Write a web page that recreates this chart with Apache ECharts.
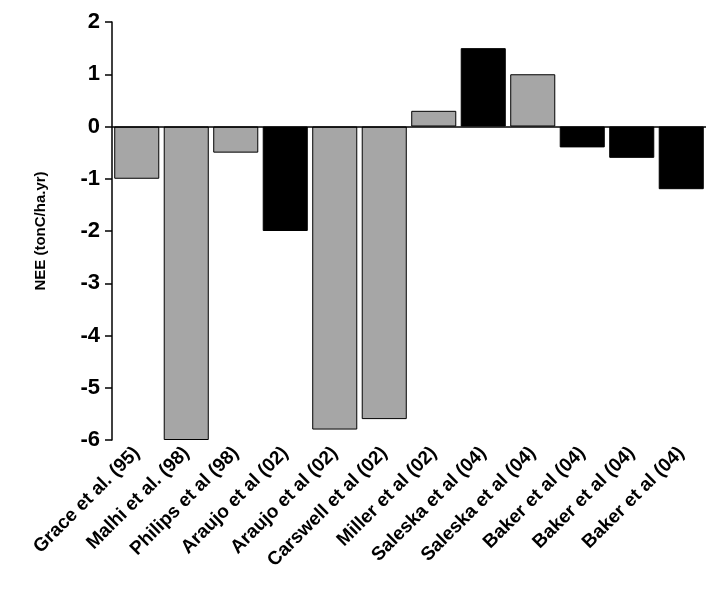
<!DOCTYPE html>
<html><head><meta charset="utf-8">
<script src="https://cdn.jsdelivr.net/npm/echarts@6/dist/echarts.min.js"></script>
<style>html,body{margin:0;padding:0;background:#fff}#chart{width:710px;height:605px}</style>
</head><body><div id="chart"></div>
<script>
var categories = ['Grace et al. (95)', 'Malhi et al. (98)', 'Philips et al (98)', 'Araujo et al (02)',
    'Araujo et al (02)', 'Carswell et al (02)', 'Miller et al (02)', 'Saleska et al (04)',
    'Saleska et al (04)', 'Baker et al (04)', 'Baker et al (04)', 'Baker et al (04)'];
var values = [-1, -6, -0.5, -2, -5.8, -5.6, 0.3, 1.5, 1.0, -0.4, -0.6, -1.2];
var isBlack = [false, false, false, true, false, false, false, true, false, true, true, true];

var chart = echarts.init(document.getElementById('chart'));
chart.setOption({
    animation: false,
    grid: {left: 112, right: 4, top: 22, bottom: 165, containLabel: false},
    xAxis: {
        type: 'category', data: categories, position: 'bottom',
        axisLine: {show: false}, axisTick: {show: false},
        axisLabel: {rotate: 45, interval: 0, fontSize: 19, fontWeight: 'bold', color: '#000',
            fontFamily: 'Liberation Sans', margin: 10}
    },
    yAxis: {
        type: 'value', min: -6, max: 2, interval: 1,
        name: 'NEE (tonC/ha.yr)', nameLocation: 'middle', nameGap: 64,
        nameTextStyle: {fontSize: 15, fontWeight: 'bold', color: '#000', fontFamily: 'Liberation Sans'},
        axisLine: {show: true, lineStyle: {color: '#000', width: 1.5}},
        axisTick: {show: true, length: 7, lineStyle: {color: '#000', width: 1.5}},
        splitLine: {show: false},
        axisLabel: {fontSize: 22, fontWeight: 'bold', color: '#000', fontFamily: 'Liberation Sans', margin: 12}
    },
    series: [{
        type: 'bar', barCategoryGap: '9%',
        data: values.map(function (v, i) {
            return {value: v, itemStyle: {color: isBlack[i] ? '#000' : '#a6a6a6', borderColor: '#000', borderWidth: 1}};
        }),
        markLine: {silent: true, symbol: 'none', label: {show: false},
            lineStyle: {color: '#000', width: 1.5, type: 'solid'}, data: [{yAxis: 0}]}
    }]
});
</script></body></html>
